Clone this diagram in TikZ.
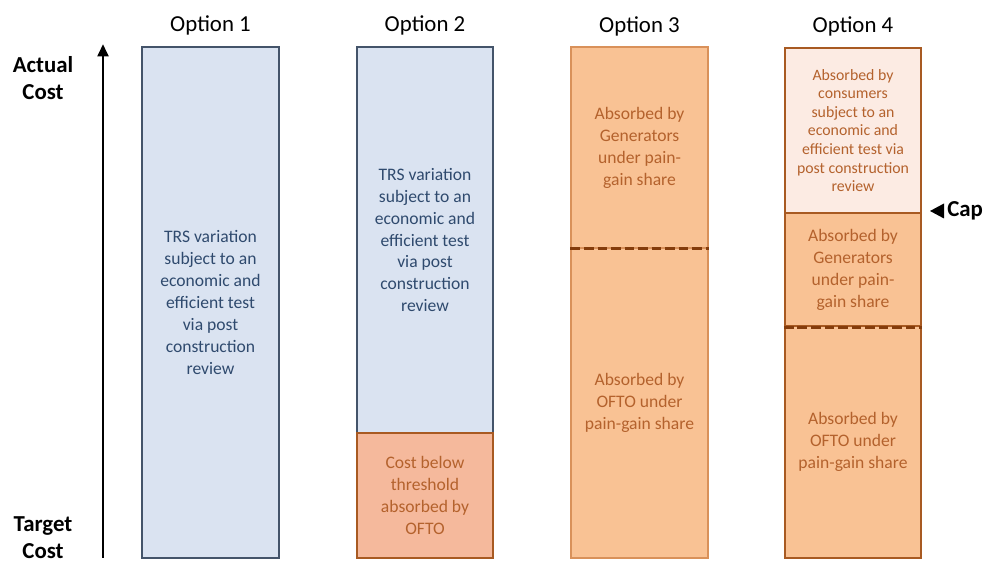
\documentclass[tikz,border=0pt]{standalone}
\usepackage{fontspec}
\setmainfont{Carlito}
\usetikzlibrary{arrows.meta}

\definecolor{bluefill}{HTML}{DAE3F1}
\definecolor{blueline}{HTML}{44546A}
\definecolor{bluetext}{HTML}{2F4A6E}
\definecolor{peachfill}{HTML}{F9C294}
\definecolor{salmonfill}{HTML}{F5B99C}
\definecolor{palefill}{HTML}{FCEBE3}
\definecolor{brownline}{HTML}{A85A22}
\definecolor{lightline}{HTML}{D9915A}
\definecolor{browntext}{HTML}{B4622D}
\definecolor{darkbrown}{HTML}{843C0C}

\begin{document}
\begin{tikzpicture}[x=1cm,y=1cm,line join=miter,
    bar/.style={rectangle,inner sep=0pt,align=center,
      font=\fontsize{10}{12.5}\selectfont},
    bluebar/.style={bar,draw=blueline,line width=1.2pt,fill=bluefill,text=bluetext},
    peachbar/.style={bar,draw=brownline,line width=1.2pt,fill=peachfill,text=browntext},
    title/.style={font=\fontsize{13}{15}\selectfont,anchor=south,inner sep=0pt},
    axis/.style={font=\bfseries\fontsize{13}{15.4}\selectfont,align=center,inner sep=0pt},
    split/.style={draw=darkbrown,line width=1.7pt,dash pattern=on 5.5pt off 2.2pt}]

  \useasboundingbox (0,0) rectangle (19.72,11.24);

  % ======================= cost axis on the left ===========================
  \coordinate (base) at (2.06,0.08);
  \coordinate (tip)  at (2.06,10.36);
  \draw[line width=1.7pt,-{Triangle[length=7pt,width=6pt]}] (base) -- (tip);

  \node[axis] (actual) at (0.86,9.68) {Actual\\Cost};
  \node[axis] (target) at (0.86,0.48) {Target\\Cost};

  % ======================= option 1: one blue bar ==========================
  \node[bluebar,minimum width=2.74cm,minimum height=10.22cm] (o1) at (4.21,5.19)
    {TRS variation\\subject to an\\economic and\\efficient test\\via post\\construction\\review};
  \node[title] (t1) at ([yshift=0.2cm]o1.north) {Option 1};

  % ======================= option 2: blue over salmon ======================
  \node[bluebar,minimum width=2.72cm,minimum height=7.72cm] (o2a) at (8.50,6.44)
    {TRS variation\\subject to an\\economic and\\efficient test\\via post\\construction\\review};
  \node[peachbar,fill=salmonfill,line width=1.5pt,minimum width=2.72cm,minimum height=2.50cm]
    (o2b) at (8.50,1.33) {Cost below\\threshold\\absorbed by\\OFTO};
  \node[title] (t2) at ([yshift=0.2cm]o2a.north) {Option 2};

  % ======================= option 3: two shares, dashed split ==============
  \node[peachbar,draw=lightline,line width=0.6pt,minimum width=2.74cm,minimum height=4.02cm]
    (o3a) at (12.79,8.29) {Absorbed by\\Generators\\under pain-\\gain share};
  \node[peachbar,draw=lightline,line width=0.6pt,minimum width=2.74cm,minimum height=6.20cm]
    (o3b) at (12.79,3.18) {Absorbed by\\OFTO under\\pain-gain share};
  \draw[split] (o3a.south west) -- (o3a.south east);
  \node[title] (t3) at ([yshift=0.2cm]o3a.north) {Option 3};

  % ======================= option 4: consumers above the cap ===============
  \node[peachbar,fill=palefill,font=\fontsize{9}{10.6}\selectfont,
    minimum width=2.72cm,minimum height=3.30cm] (o4a) at (17.06,8.63)
    {Absorbed by\\consumers\\subject to an\\economic and\\efficient test via\\post construction\\review};
  \node[peachbar,minimum width=2.72cm,minimum height=2.26cm] (o4b) at (17.06,5.85)
    {Absorbed by\\Generators\\under pain-\\gain share};
  \node[peachbar,minimum width=2.72cm,minimum height=4.64cm] (o4c) at (17.06,2.40)
    {Absorbed by\\OFTO under\\pain-gain share};
  \draw[split] (o4b.south west) -- (o4b.south east);
  \node[title] (t4) at ([yshift=0.2cm]o4a.north) {Option 4};

  % cap marker
  \node[axis,anchor=west] (cap) at (18.94,7.02) {Cap};
  \fill ([xshift=-0.06cm]cap.west) -- ++(0,0.15) -- ++(-0.28,-0.15) -- ++(0.28,-0.15) -- cycle;

\end{tikzpicture}
\end{document}
